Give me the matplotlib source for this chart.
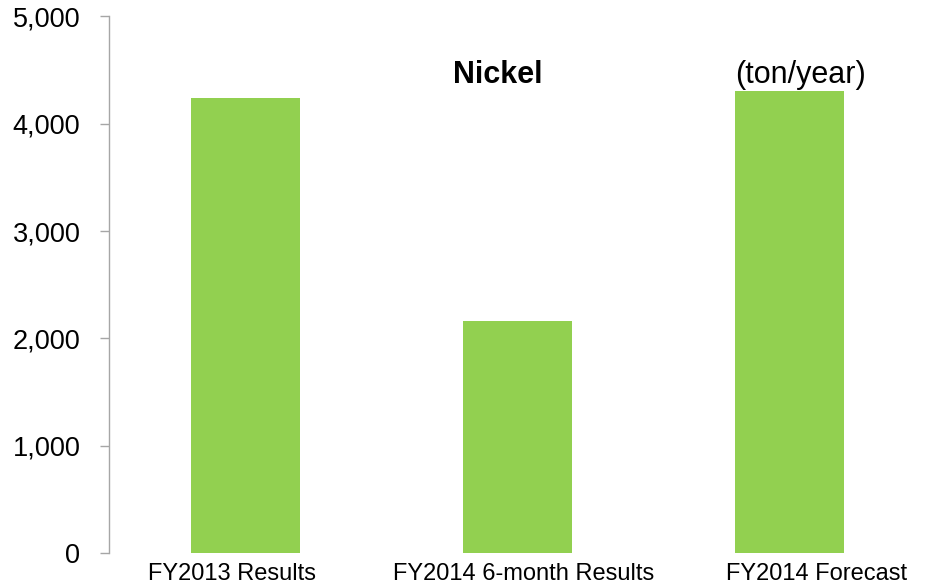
import matplotlib.pyplot as plt
import matplotlib.ticker as mticker

plt.rcParams['font.family'] = ['Liberation Sans', 'DejaVu Sans']

# data
categories = ['FY2013 Results', 'FY2014 6-month Results', 'FY2014 Forecast']
values = [4240, 2160, 4310]
yticks = [0, 1000, 2000, 3000, 4000, 5000]

fig = plt.figure(figsize=(9.3, 5.83), dpi=100)
ax = fig.add_axes([0.1177, 0.0515, 0.8775, 0.9202])

x = list(range(len(categories)))
ax.bar(x, values, width=0.4, color='#92D050')

ax.set_xlim(-0.5, 2.5)
ax.set_ylim(0, 5000)
ax.set_yticks(yticks)
ax.yaxis.set_major_formatter(mticker.StrMethodFormatter('{x:,.0f}'))
# category labels sit in evenly spread boxes, a bit wider than the bar slots
ax.set_xticks([-0.05, 1.022, 2.099])
ax.set_xticklabels(categories, fontsize=17)

for s in ['top', 'right', 'bottom']:
    ax.spines[s].set_visible(False)
ax.spines['left'].set_color('#a6a6a6')
ax.spines['left'].set_linewidth(1.0)
ax.tick_params(axis='y', colors='#a6a6a6', labelcolor='black', length=6.5,
               width=1.0, pad=14.5, labelsize=19.5)
ax.tick_params(axis='x', length=0, pad=7)

# title and unit text
ax.text(0.926, 4380, 'Nickel', fontsize=22, fontweight='bold',
        ha='center', va='baseline')
ax.text(2.042, 4380, '(ton/year)', fontsize=22, ha='center', va='baseline')

fig.savefig('out.png', dpi=100)
